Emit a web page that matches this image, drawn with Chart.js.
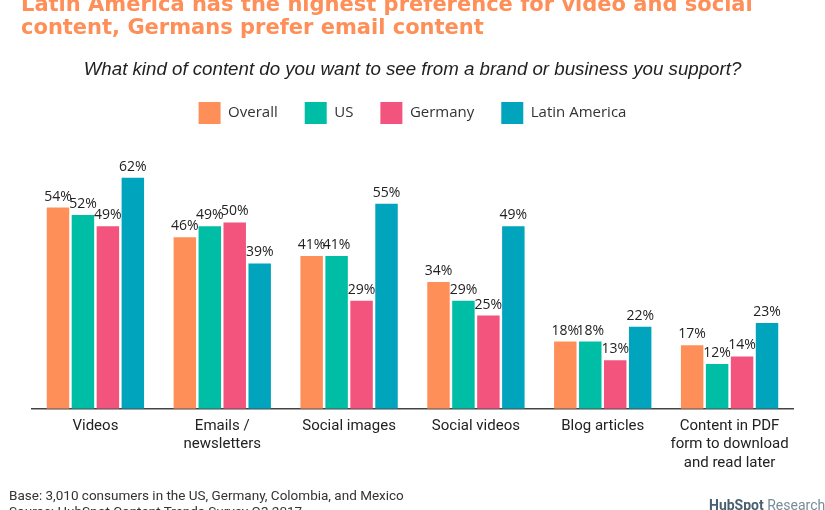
<!DOCTYPE html>
<html>
<head>
<meta charset="utf-8">
<script src="https://cdn.jsdelivr.net/npm/chart.js@4.4.1/dist/chart.umd.min.js"></script>
<style>
  html, body { margin: 0; padding: 0; background: #fff; overflow: hidden; }
  #wrap { position: relative; width: 825px; height: 510px; overflow: hidden; }
  #c { position: absolute; left: 0; top: 0; }
  .title { position: absolute; left: 21px; top: -6.6px; font-family: "DejaVu Sans", sans-serif; font-weight: 700; font-size: 21px; line-height: 22.7px; color: #FF8F59; white-space: nowrap; }
  .subtitle { position: absolute; left: 0; width: 825px; top: 58px; text-align: center; font-family: "Liberation Sans", Arial, sans-serif; font-style: italic; font-size: 18.7px; color: #222; white-space: nowrap; }
  .foot { position: absolute; left: 9px; top: 487px; font-family: Roboto, sans-serif; font-size: 13.5px; line-height: 16px; color: #333; white-space: nowrap; }
  .logo { position: absolute; left: 709px; top: 497px; font-family: Roboto, sans-serif; font-size: 14px; color: #7a8b99; white-space: nowrap; }
  .logo b { color: #4a5f70; font-weight: 700; }
</style>
</head>
<body>
<div id="wrap">
  <canvas id="c" width="825" height="510"></canvas>
  <div class="title">Latin America has the highest preference for video and social<br>content, Germans prefer email content</div>
  <div class="subtitle">What kind of content do you want to see from a brand or business you support?</div>
  <div class="foot">Base: 3,010 consumers in the US, Germany, Colombia, and Mexico<br>Source: HubSpot Content Trends Survey Q3 2017</div>
  <div class="logo"><b>HubSpot</b> Research</div>
</div>
<script>
const categories = [
  "Videos",
  ["Emails /", "newsletters"],
  "Social images",
  "Social videos",
  "Blog articles",
  ["Content in PDF", "form to download", "and read later"]
];
const seriesNames = ["Overall", "US", "Germany", "Latin America"];
const overall = [54, 46, 41, 34, 18, 17];
const us = [52, 49, 41, 29, 18, 12];
const germany = [49, 50, 29, 25, 13, 14];
const latinAmerica = [62, 39, 55, 49, 22, 23];
const colors = ["#FF8F59", "#00BDA5", "#F2547D", "#00A4BD"];

const valueLabels = {
  id: "valueLabels",
  afterDatasetsDraw(chart) {
    const ctx = chart.ctx;
    ctx.save();
    ctx.font = '14px "Open Sans", sans-serif';
    ctx.fillStyle = "#222";
    ctx.textAlign = "center";
    ctx.textBaseline = "bottom";
    chart.data.datasets.forEach((ds, i) => {
      const meta = chart.getDatasetMeta(i);
      meta.data.forEach((el, j) => {
        ctx.fillText(ds.data[j] + "%", el.x, el.y - 4);
      });
    });
    ctx.restore();
  }
};

const allSeries = [overall, us, germany, latinAmerica];
new Chart(document.getElementById("c"), {
  type: "bar",
  data: {
    labels: categories,
    datasets: allSeries.map((d, i) => ({
      label: seriesNames[i],
      data: d,
      backgroundColor: colors[i],
      borderWidth: 0,
      categoryPercentage: 0.787,
      barPercentage: 0.9
    }))
  },
  options: {
    responsive: false,
    animation: false,
    layout: { padding: { left: 32, right: 32, top: 75, bottom: 38 } },
    plugins: {
      legend: {
        display: true,
        position: "top",
        labels: {
          boxWidth: 22,
          boxHeight: 22,
          padding: 27,
          color: "#333",
          font: { family: "'Open Sans', sans-serif", size: 15 }
        }
      },
      tooltip: { enabled: false }
    },
    scales: {
      x: {
        grid: { display: false },
        border: { display: true, color: "#444", width: 1.5 },
        ticks: {
          color: "#222",
          padding: 0,
          maxRotation: 0,
          autoSkip: false,
          font: { family: "Roboto, sans-serif", size: 15, lineHeight: 1.23 }
        }
      },
      y: {
        display: false,
        min: 0,
        max: 73.75
      }
    }
  },
  plugins: [valueLabels]
});
</script>
</body>
</html>
